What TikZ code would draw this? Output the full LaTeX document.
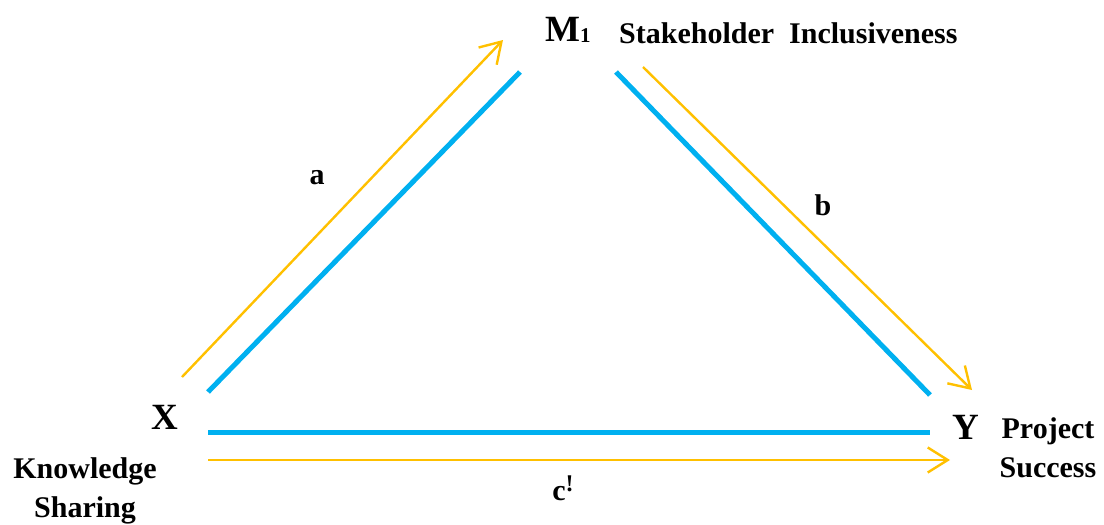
\documentclass[tikz,border=0pt]{standalone}
\usepackage{fontspec}
\setmainfont{Liberation Serif}
\usetikzlibrary{arrows.meta}
\definecolor{cblue}{HTML}{00B0F0}
\definecolor{cyel}{HTML}{FFC000}
\begin{document}
\begin{tikzpicture}[x=1pt,y=-1pt,
  blueline/.style={draw=cblue,line width=5pt},
  yelarrow/.style={draw=cyel,line width=2.4pt,-{Straight Barb[length=20pt,width=25pt,line width=2.4pt]}},
  big/.style={font=\bfseries\fontsize{37}{37}\selectfont,inner sep=0pt},
  lab/.style={font=\bfseries\fontsize{30}{39}\selectfont,inner sep=0pt,align=center}]
\useasboundingbox (0,0) rectangle (1104,525);
% nodes
\node[big] (M) at (568,30) {M\raisebox{-1.5pt}{\fontsize{21}{21}\selectfont 1}};
\node[lab,anchor=west] (SI) at (619,33) {Stakeholder\ \ Inclusiveness};
\node[big] (X) at (165,417) {X};
\node[big] (Y) at (966,427) {Y};
\node[lab] (KS) at (85,491) {Knowledge\\Sharing};
\node[lab] (PS) at (1048,448) {Project\\Success};
\node[lab] (a) at (317,178) {a};
\node[lab] (b) at (823,205) {b};
\node[lab] (c) at (563,488) {c\raisebox{9pt}{\fontsize{24}{24}\selectfont !}};
% coordinates
\coordinate (bl1) at (208,392);
\coordinate (bl2) at (520,72);
\coordinate (br1) at (616,72);
\coordinate (br2) at (930,395);
\coordinate (bb1) at (208,432);
\coordinate (bb2) at (930,432);
\coordinate (ya1) at (182,377);
\coordinate (ya2) at (503,40);
\coordinate (yb1) at (643,67);
\coordinate (yb2) at (972,390);
\coordinate (yc1) at (208,460);
\coordinate (yc2) at (950,460);
% lines
\draw[blueline] (bl1) -- (bl2);
\draw[blueline] (br1) -- (br2);
\draw[blueline] (bb1) -- (bb2);
\draw[yelarrow] (ya1) -- (ya2);
\draw[yelarrow] (yb1) -- (yb2);
\draw[yelarrow] (yc1) -- (yc2);
\end{tikzpicture}
\end{document}
